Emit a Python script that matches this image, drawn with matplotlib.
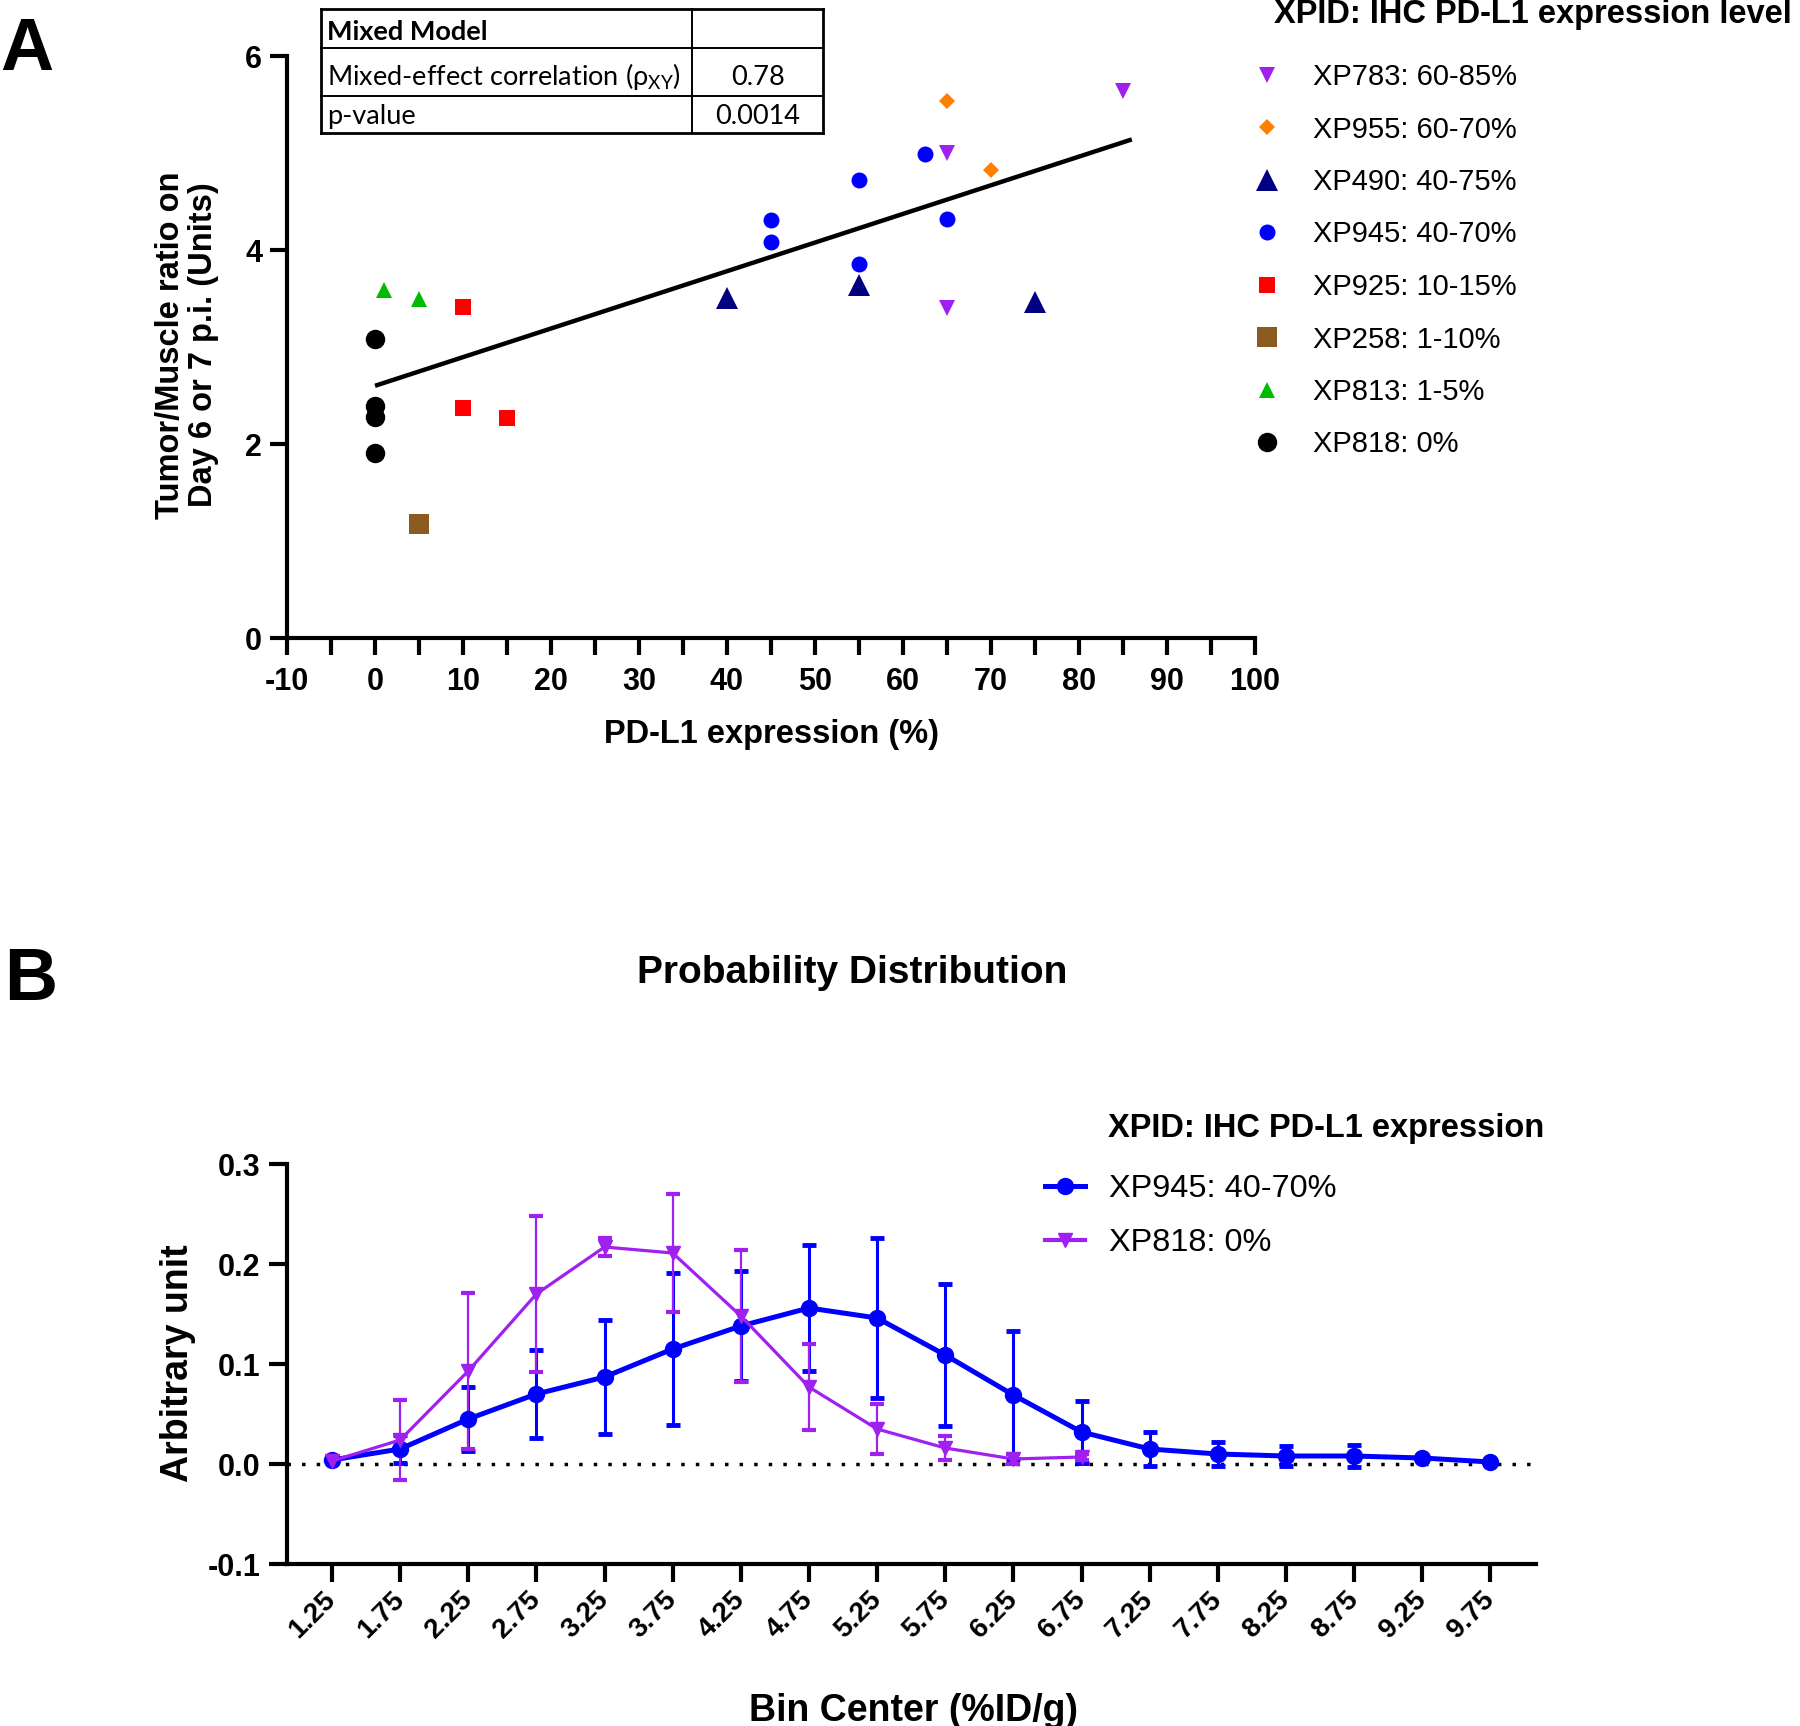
import matplotlib
matplotlib.use("Agg")
import matplotlib.pyplot as plt
import numpy as np
from matplotlib.lines import Line2D

plt.rcParams['font.family'] = ['Liberation Sans', 'DejaVu Sans']
plt.rcParams['mathtext.default'] = 'regular'

# ---------------- Panel A data ----------------
a_labels = ["XP783: 60-85%", "XP955: 60-70%", "XP490: 40-75%", "XP945: 40-70%",
            "XP925: 10-15%", "XP258: 1-10%", "XP813: 1-5%", "XP818: 0%"]
xp783_x = [85, 65, 65]
xp783_y = [5.64, 5.00, 3.40]
xp955_x = [65, 70]
xp955_y = [5.54, 4.82]
xp490_x = [40, 55, 75]
xp490_y = [3.50, 3.64, 3.46]
xp945_x = [45, 45, 55, 55, 62.5, 65]
xp945_y = [4.31, 4.08, 4.72, 3.86, 4.99, 4.32]
xp925_x = [10, 10, 15]
xp925_y = [3.41, 2.37, 2.27]
xp258_x = [5]
xp258_y = [1.18]
xp813_x = [1, 5]
xp813_y = [3.59, 3.49]
xp818_x = [0, 0, 0, 0]
xp818_y = [3.08, 2.39, 2.28, 1.91]
fit_x = [0, 86]
fit_y = [2.60, 5.14]

a_xticks = [-10, 0, 10, 20, 30, 40, 50, 60, 70, 80, 90, 100]
a_yticks = [0, 2, 4, 6]

table_rows = [["Mixed Model", ""],
              ["Mixed-effect correlation (ρ$_{XY}$)", "0.78"],
              ["p-value", "0.0014"]]

# ---------------- Panel B data ----------------
bin_labels = ["1.25", "1.75", "2.25", "2.75", "3.25", "3.75", "4.25", "4.75", "5.25",
              "5.75", "6.25", "6.75", "7.25", "7.75", "8.25", "8.75", "9.25", "9.75"]
xp945_mean = [0.004, 0.015, 0.045, 0.070, 0.087, 0.115, 0.138, 0.156, 0.146,
              0.109, 0.069, 0.032, 0.015, 0.010, 0.008, 0.008, 0.006, 0.002]
xp945_sd = [0.002, 0.014, 0.032, 0.044, 0.057, 0.076, 0.055, 0.063, 0.080,
            0.071, 0.064, 0.031, 0.017, 0.012, 0.010, 0.011, 0.002, 0.001]
xp818_mean = [0.003, 0.024, 0.093, 0.170, 0.217, 0.211, 0.148, 0.077, 0.035,
              0.016, 0.005, 0.007]
xp818_sd = [0.002, 0.040, 0.078, 0.078, 0.009, 0.059, 0.066, 0.043, 0.025,
            0.012, 0.005, 0.003]
b_yticks = [-0.1, 0.0, 0.1, 0.2, 0.3]
b_labels = ["XP945: 40-70%", "XP818: 0%"]

# ---------------- layout helpers ----------------
W, H = 1800, 1726
fig = plt.figure(figsize=(W / 100, H / 100), dpi=100)


def fx(px):
    return px / W


def fy(py):
    return 1 - py / H


BLUE = '#0000FF'
PURPLE = '#A020F0'

# ================= Panel A =================
axA = fig.add_axes([fx(287), fy(638), fx(1255) - fx(287), fy(56) - fy(638)])
styles = [
    (xp783_x, xp783_y, 'v', PURPLE, 12),
    (xp955_x, xp955_y, 'D', '#FF8000', 8.5),
    (xp490_x, xp490_y, '^', '#000080', 16),
    (xp945_x, xp945_y, 'o', BLUE, 11.5),
    (xp925_x, xp925_y, 's', '#FF0000', 11),
    (xp258_x, xp258_y, 's', '#8B5A1E', 15),
    (xp813_x, xp813_y, '^', '#00BB00', 12),
    (xp818_x, xp818_y, 'o', '#000000', 14),
]
handlesA = []
for (xs, ys, mk, col, ms), lab in zip(styles, a_labels):
    h, = axA.plot(xs, ys, ls='none', marker=mk, color=col, markersize=ms,
                  markeredgewidth=0, label=lab, zorder=3)
    handlesA.append(h)
axA.plot(fit_x, fit_y, color='black', lw=3.2, zorder=2, solid_capstyle='butt')

axA.set_xlim(-10, 100)
axA.set_ylim(0, 6)
for s in ['top', 'right']:
    axA.spines[s].set_visible(False)
for s in ['left', 'bottom']:
    axA.spines[s].set_linewidth(3)
axA.set_xticks(a_xticks, [str(t) for t in a_xticks], fontsize=22, fontweight='bold')
axA.set_xticks(np.arange(-5, 100, 10), minor=True)
axA.set_yticks(a_yticks, [str(t) for t in a_yticks], fontsize=22, fontweight='bold')
axA.tick_params(which='both', direction='out', length=12, width=3)
axA.tick_params(axis='x', pad=9)
axA.tick_params(axis='y', pad=6)

axA.set_xlabel("PD-L1 expression (%)", fontsize=23.5, fontweight='bold')
axA.xaxis.label.set_va('center')
axA.xaxis.set_label_coords(0.5, (638 - 734) / 582)
axA.set_ylabel("Tumor/Muscle ratio on\nDay 6 or 7 p.i. (Units)", fontsize=23.5,
               fontweight='bold', linespacing=1.1)
axA.yaxis.label.set_va('center')
axA.yaxis.set_label_coords((187 - 287) / 968, (638 - 345) / 582)

legA = fig.legend(handles=handlesA, loc='upper left',
                  bbox_to_anchor=(fx(1252), fy(63)), frameon=False, fontsize=21,
                  handlelength=1.0, handletextpad=1.1, labelspacing=0.84,
                  borderpad=0, borderaxespad=0, numpoints=1)
fig.text(fx(1274), fy(15), "XPID: IHC PD-L1 expression level", fontsize=23.5,
         fontweight='bold', ha='left', va='center')

# table
axT = fig.add_axes([fx(321), fy(133), fx(823) - fx(321), fy(9) - fy(133)])
axT.set_xlim(321, 823)
axT.set_ylim(133, 9)
axT.axis('off')
row_edges = [9, 48, 96, 133]
row_baselines = [40, 85, 124]
col_edges = [321, 692, 823]
for i, yv in enumerate(row_edges):
    axT.plot([col_edges[0], col_edges[-1]], [yv, yv], color='black',
             lw=2.0 if i in (0, 3) else 1.4, clip_on=False, solid_capstyle='projecting')
for i, xv in enumerate(col_edges):
    axT.plot([xv, xv], [row_edges[0], row_edges[-1]], color='black',
             lw=2.0 if i in (0, 2) else 1.4, clip_on=False, solid_capstyle='projecting')
tfont = ['Lato', 'DejaVu Sans']
for r, (c1, c2) in enumerate(table_rows):
    yb = row_baselines[r]
    axT.text(col_edges[0] + 6, yb, c1, fontsize=19.5, family=tfont,
             fontweight='bold' if r == 0 else 'normal', ha='left', va='baseline')
    if c2:
        axT.text((col_edges[1] + col_edges[2]) / 2, yb, c2, fontsize=19.5,
                 family=tfont, ha='center', va='baseline')

fig.text(fx(27), fy(50), "A", fontsize=53, fontweight='bold', ha='center', va='center')

# ================= Panel B =================
axB = fig.add_axes([fx(287), fy(1564), fx(1536) - fx(287), fy(1164) - fy(1564)])
xb = np.arange(len(bin_labels))
axB.axhline(0, color='black', ls=(0, (1, 3.2)), lw=2.5, zorder=1)

axB.errorbar(xb, xp945_mean, yerr=xp945_sd, fmt='none', ecolor=BLUE,
             elinewidth=2.2, capsize=5, capthick=3.5, zorder=2)
axB.errorbar(xb[:len(xp818_mean)], xp818_mean, yerr=xp818_sd, fmt='none',
             ecolor=PURPLE, elinewidth=1.6, capsize=5, capthick=3, zorder=2)
axB.plot(xb, xp945_mean, color=BLUE, lw=3.6, marker='o', ms=11.5, zorder=3)
axB.plot(xb[:len(xp818_mean)], xp818_mean, color=PURPLE, lw=2.3, marker='v',
         ms=10.5, zorder=4)

axB.set_xlim(-0.66, 17.67)
axB.set_ylim(-0.1, 0.3)
for s in ['top', 'right']:
    axB.spines[s].set_visible(False)
for s in ['left', 'bottom']:
    axB.spines[s].set_linewidth(3)
axB.set_yticks(b_yticks, [f"{t:.1f}" for t in b_yticks], fontsize=22, fontweight='bold')
axB.set_xticks(xb, bin_labels, fontsize=20, fontweight='bold', rotation=45,
               ha='right', va='center', rotation_mode='anchor')
axB.tick_params(which='both', direction='out', length=13, width=3)
axB.tick_params(axis='x', pad=10)
axB.tick_params(axis='y', pad=6)

axB.set_xlabel("Bin Center (%ID/g)", fontsize=27, fontweight='bold')
axB.xaxis.label.set_va('center')
axB.xaxis.set_label_coords((913 - 287) / 1249, (1564 - 1711) / 400)
axB.set_ylabel("Arbitrary unit", fontsize=27, fontweight='bold')
axB.yaxis.label.set_va('center')
axB.yaxis.set_label_coords((178 - 287) / 1249, (1564 - 1363) / 400)

handlesB = [Line2D([], [], color=BLUE, lw=3.6, marker='o', ms=11.5),
            Line2D([], [], color=PURPLE, lw=3.0, marker='v', ms=10.5)]
fig.legend(handles=handlesB, labels=b_labels, loc='upper left',
           bbox_to_anchor=(fx(1045), fy(1174)), frameon=False, fontsize=23.4,
           handlelength=1.23, handletextpad=0.75, labelspacing=0.75,
           borderpad=0, borderaxespad=0)
fig.text(fx(1108), fy(1128), "XPID: IHC PD-L1 expression", fontsize=23.5,
         fontweight='bold', ha='left', va='center')

fig.text(fx(852), fy(973), "Probability Distribution", fontsize=28,
         fontweight='bold', ha='center', va='center')
fig.text(fx(31), fy(980), "B", fontsize=53, fontweight='bold', ha='center', va='center')

fig.savefig("out.png", dpi=100, facecolor='white')
